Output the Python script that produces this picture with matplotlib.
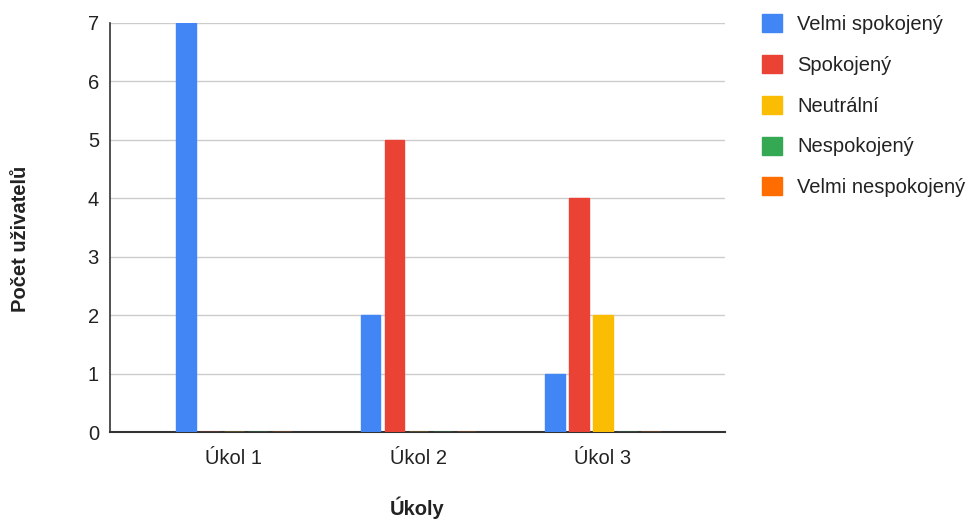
import matplotlib
matplotlib.use("Agg")
import matplotlib.pyplot as plt
import numpy as np

plt.rcParams['font.family'] = ['Liberation Sans', 'DejaVu Sans']

categories = ["Úkol 1", "Úkol 2", "Úkol 3"]
series_names = ["Velmi spokojený", "Spokojený", "Neutrální", "Nespokojený", "Velmi nespokojený"]
velmi_spokojeny = [7, 2, 1]
spokojeny = [0, 5, 4]
neutralni = [0, 0, 2]
nespokojeny = [0, 0, 0]
velmi_nespokojeny = [0, 0, 0]
series_values = [velmi_spokojeny, spokojeny, neutralni, nespokojeny, velmi_nespokojeny]
colors = ["#4285f4", "#ea4335", "#fbbc04", "#34a853", "#ff6d01"]
y_ticks = [0, 1, 2, 3, 4, 5, 6, 7]

FS = 14.5
TXT = '#222222'

fig = plt.figure(figsize=(9.7, 5.19), dpi=100)
ax = fig.add_axes([0.1134, 0.1676, 0.6340, 0.7881])

x = np.arange(len(categories))
pitch = 0.130
width = 0.108
n = len(series_names)
for i, (name, vals, c) in enumerate(zip(series_names, series_values, colors)):
    offs = (i - (n - 1) / 2) * pitch
    ax.bar(x + offs, vals, width=width, color=c, edgecolor=c, linewidth=1.0,
           label=name, zorder=3)

ax.set_xlim(-0.672, 2.661)
ax.set_ylim(0, 7)
ax.set_yticks(y_ticks)
ax.set_xticks(x)
ax.set_xticklabels(categories)
ax.tick_params(axis='both', length=0, labelsize=FS, colors=TXT)
ax.tick_params(axis='y', pad=8)
ax.tick_params(axis='x', pad=12)
ax.grid(axis='y', color='#cccccc', linewidth=1, zorder=0)
for s in ['top', 'right']:
    ax.spines[s].set_visible(False)
ax.spines['left'].set_color('#333333')
ax.spines['left'].set_linewidth(1.2)
ax.spines['bottom'].set_color('#333333')
ax.spines['bottom'].set_linewidth(1.5)
ax.spines['bottom'].set_zorder(2)

ax.set_ylabel("Počet uživatelů", fontsize=FS, fontweight='bold', color=TXT, va='center')
ax.yaxis.set_label_coords(-0.146, 0.472)
ax.set_xlabel("Úkoly", fontsize=FS, fontweight='bold', color=TXT, va='center')
ax.xaxis.set_label_coords(0.5, -0.186)

leg = ax.legend(loc='upper left', bbox_to_anchor=(1.06, 1.022), frameon=False,
                fontsize=FS, handlelength=1.0, handleheight=1.0, handletextpad=0.75,
                labelspacing=1.04, borderaxespad=0, borderpad=0)
for t in leg.get_texts():
    t.set_color(TXT)

fig.savefig("out.png", dpi=100)
